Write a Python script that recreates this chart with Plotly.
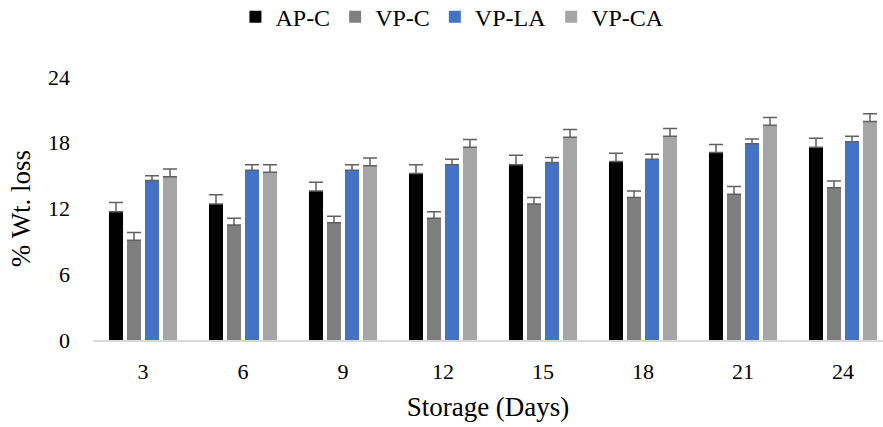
import plotly.graph_objects as go

days = ["3", "6", "9", "12", "15", "18", "21", "24"]
series_names = ["AP-C", "VP-C", "VP-LA", "VP-CA"]
ap_c = [11.7, 12.4, 13.6, 15.2, 16.0, 16.3, 17.1, 17.6]
ap_c_err = [0.85, 0.85, 0.8, 0.8, 0.85, 0.75, 0.75, 0.8]
vp_c = [9.1, 10.5, 10.7, 11.1, 12.4, 13.0, 13.3, 13.9]
vp_c_err = [0.7, 0.6, 0.6, 0.6, 0.6, 0.6, 0.7, 0.6]
vp_la = [14.55, 15.5, 15.5, 16.0, 16.2, 16.5, 17.9, 18.1]
vp_la_err = [0.45, 0.5, 0.5, 0.5, 0.45, 0.45, 0.45, 0.5]
vp_ca = [14.9, 15.3, 15.9, 17.6, 18.5, 18.6, 19.6, 19.95]
vp_ca_err = [0.7, 0.7, 0.7, 0.7, 0.7, 0.7, 0.7, 0.7]

values = [ap_c, vp_c, vp_la, vp_ca]
errors = [ap_c_err, vp_c_err, vp_la_err, vp_ca_err]
colors = ["#000000", "#7f7f7f", "#4472c4", "#a5a5a5"]

font_family = "Liberation Serif, Times New Roman, serif"

fig = go.Figure()
for name, vals, errs, col in zip(series_names, values, errors, colors):
    fig.add_trace(go.Bar(
        x=days, y=vals, name=name,
        marker=dict(color=col, line=dict(width=0)),
        error_y=dict(type="data", array=errs, symmetric=False,
                     arrayminus=[0] * len(errs),
                     color="#606060", thickness=1.5, width=7),
    ))

fig.update_layout(
    width=883, height=427,
    margin=dict(l=93, r=0, t=77, b=87, autoexpand=False),
    paper_bgcolor="white", plot_bgcolor="white",
    barmode="group", bargap=0.28, bargroupgap=0.22,
    font=dict(family=font_family, size=22, color="#000000"),
    legend=dict(orientation="h", x=0.455, xanchor="center", y=1.228, yanchor="middle",
                font=dict(size=24, color="#000000"), itemwidth=30,
                traceorder="normal"),
    xaxis=dict(
        type="category", range=[-0.5, 7.4],
        showgrid=False, showline=True, linecolor="#d9d9d9", linewidth=1.5,
        ticks="", ticklabelstandoff=11,
        tickfont=dict(size=22, color="#000000"),
        title=dict(text="Storage (Days)", font=dict(size=27, color="#000000"), standoff=14),
    ),
    yaxis=dict(
        range=[0, 24], tickvals=[0, 6, 12, 18, 24],
        showgrid=False, zeroline=False, showline=False,
        ticks="", ticklabelstandoff=22,
        tickfont=dict(size=22, color="#000000"),
        title=dict(text="% Wt. loss", font=dict(size=27, color="#000000"), standoff=9),
    ),
)

fig.write_html("out.html")
